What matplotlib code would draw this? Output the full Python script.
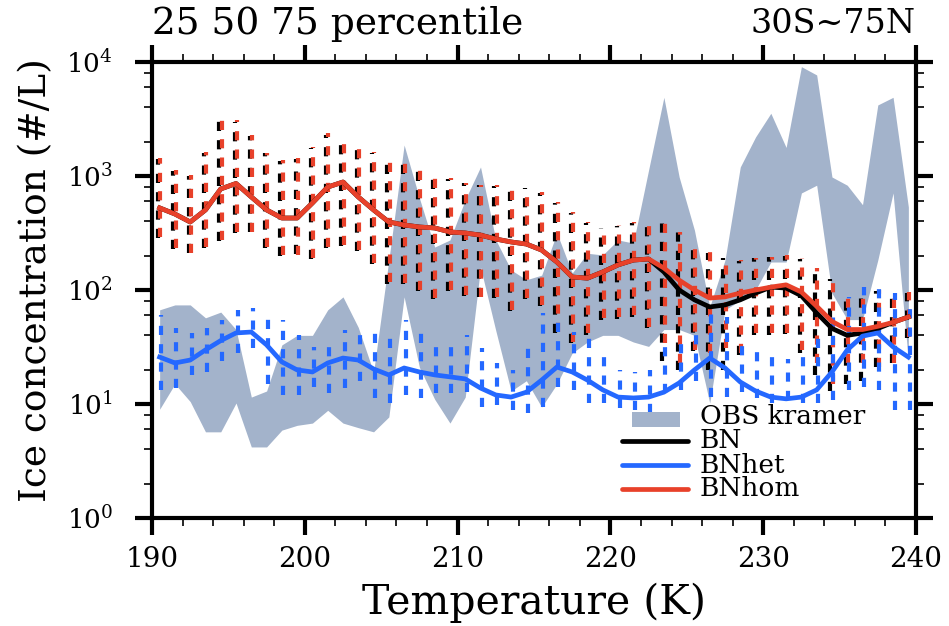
import numpy as np
import matplotlib
matplotlib.use("Agg")
import matplotlib.pyplot as plt
from matplotlib.patches import Rectangle
from matplotlib.ticker import LogLocator, MultipleLocator, FixedLocator

# temperature bin centres (K)
temp = np.arange(190.5, 240.0, 1.0)

# OBS kramer 25/75 percentile (#/L)
obs_lo = [9, 15, 10.5, 5.7, 5.7, 10.2, 4.2, 4.2, 5.9, 6.5,
          6.8, 8.8, 6.8, 6.2, 5.7, 7.7, 87, 21, 11, 6.8,
          11.5, 158, 44, 13, 16, 9.4, 15, 28, 35, 40,
          40, 35, 32, 45, 45, 40, 10.2, 67, 81, 100,
          176, 176, 710, 830, 94, 55, 55, 183, 710, 24]
obs_hi = [67, 74, 74, 57, 64, 45, 11.5, 13, 33, 40,
          40, 67, 87, 47, 19, 183, 1870, 640, 238, 275,
          620, 1200, 275, 150, 123, 135, 316, 141, 210, 203,
          275, 258, 1130, 4900, 980, 335, 71, 183, 1200, 2200,
          3550, 1780, 9100, 7700, 980, 830, 560, 4200, 4900, 535]

# model medians
bn_med = [525, 464, 395, 504, 770, 860, 655, 504, 428, 428,
          580, 800, 886, 655, 504, 395, 372, 357, 350, 323,
          316, 303, 280, 264, 253, 224, 176, 130, 127, 144,
          166, 183, 187, 144, 100, 82, 71, 74, 82, 94,
          106, 104, 89, 63, 46, 40, 42, 46, 52, 58]
het_med = [25.8, 22.9, 24.3, 29.8, 36, 42, 42.8, 33, 23.4, 19.9,
           19.1, 22.9, 25.3, 24.3, 20.3, 18, 20.7, 19.1, 18, 17.3,
           16.6, 13.8, 12, 11.5, 12.7, 16.2, 21.1, 19.1, 16.2, 13.3,
           11.5, 11.3, 11.5, 12.7, 15.3, 19.9, 25.3, 20.7, 15.6, 13,
           11.5, 11.1, 11.5, 13.3, 19.1, 29.8, 39.4, 42, 31.7, 25.8]
hom_med = [525, 464, 395, 504, 770, 860, 655, 504, 428, 428,
           580, 800, 886, 655, 504, 395, 372, 357, 350, 323,
           316, 303, 280, 264, 253, 224, 176, 130, 127, 144,
           166, 183, 187, 156, 122, 100, 85, 87, 94, 100,
           106, 111, 96, 72, 53, 45, 45, 48, 52, 58]

# model 25/75 percentiles
bn_lo = [285, 228, 212, 232, 270, 318, 320, 235, 200, 205,
         188, 232, 245, 220, 170, 112, 112, 98, 84, 98,
         88, 86, 85, 66, 84, 72, 42, 34, 40, 55,
         56, 58, 46, 24, 20, 29, 20, 20, 27, 40,
         40, 41, 28, 18, 13, 15, 16, 21, 23, 38]
bn_hi = [1400, 1100, 1000, 1580, 3300, 3000, 2250, 1580, 1350, 1400,
         1750, 2300, 2250, 1900, 1600, 1420, 1300, 1180, 1100, 950,
         860, 830, 820, 820, 780, 710, 580, 470, 390, 350,
         365, 390, 420, 390, 320, 255, 212, 192, 180, 190,
         193, 200, 188, 152, 125, 95, 98, 98, 95, 95]
het_lo = [13.3, 13.8, 18, 19, 24, 28, 31, 15, 12, 12,
          14, 12.5, 13.8, 16, 11.3, 10.2, 12, 11.3, 12.5, 12.5,
          12.7, 9.4, 9.8, 8.9, 8.3, 9.4, 14, 13.3, 10.2, 10.2,
          9.2, 8.9, 8.3, 12.5, 13.3, 16, 11.5, 11.5, 12.7, 11.3,
          10.2, 10.8, 10.2, 10.2, 10.8, 13.3, 14, 13.3, 8.9, 8.9]
het_hi = [60, 46, 42, 46, 55, 67, 70, 64, 55, 40,
          31.6, 38, 45, 45, 46, 45, 55, 45, 38, 38,
          40, 31, 23, 20, 34, 63, 52, 43, 42, 30,
          20, 19, 20, 31.6, 40, 42, 71, 58, 39, 34,
          25.8, 25, 25.8, 39, 67, 87, 106, 111, 94, 82]
hom_lo = [290, 232, 210, 237, 275, 323, 323, 237, 203, 203,
          190, 237, 248, 224, 173, 117, 115, 100, 85, 100,
          90, 87, 87, 67, 85, 74, 43, 35, 42, 57,
          58, 60, 47, 34, 23, 30, 28, 31, 28, 42,
          42, 42, 30, 23, 15, 23, 23, 21, 23, 39]
hom_hi = [1440, 1120, 1020, 1620, 3430, 3100, 2300, 1600, 1380, 1440,
          1800, 2380, 2300, 1950, 1620, 1440, 1320, 1200, 1120, 960,
          870, 830, 830, 830, 785, 720, 590, 480, 395, 357,
          372, 395, 428, 395, 323, 258, 215, 195, 183, 191,
          195, 203, 191, 156, 127, 96, 100, 100, 96, 96]

c_obs = '#a3b3cb'
c_bn = 'black'
c_het = '#2468ff'
c_hom = '#e8412a'

plt.rcParams['font.family'] = ['DejaVu Serif']
plt.rcParams['mathtext.fontset'] = 'dejavuserif'

fig = plt.figure(figsize=(9.49, 6.26), dpi=100)
ax = fig.add_axes([152/949, 1-518/626, (916-152)/949, (518-62)/626])

ax.fill_between(temp, obs_lo, obs_hi, color=c_obs, lw=0, zorder=1)

# dashed percentile bars
for t, lo, hi in zip(temp, bn_lo, bn_hi):
    ax.plot([t-0.1, t-0.1], [lo, hi], color=c_bn, lw=3, dashes=(2.2, 2.2), zorder=2)
for t, lo, hi in zip(temp, hom_lo, hom_hi):
    ax.plot([t+0.05, t+0.05], [lo, hi], color=c_hom, lw=3, dashes=(2.2, 2.2), zorder=3)
for t, lo, hi in zip(temp, het_lo, het_hi):
    ax.plot([t+0.1, t+0.1], [lo, hi], color=c_het, lw=3, dashes=(2.2, 2.2), zorder=3)

ax.plot(temp, bn_med, color=c_bn, lw=3.4, zorder=5)
ax.plot(temp, het_med, color=c_het, lw=3.4, zorder=5)
ax.plot(temp, hom_med, color=c_hom, lw=3.4, zorder=6)

ax.set_xlim(190, 240)
ax.set_yscale('log')
ax.set_ylim(1, 1e4)
ax.xaxis.set_major_locator(MultipleLocator(10))
ax.xaxis.set_minor_locator(MultipleLocator(2))
ax.yaxis.set_major_locator(FixedLocator([1, 10, 100, 1000, 10000]))
ax.yaxis.set_minor_locator(LogLocator(base=10, subs=(2, 4, 6, 8)))
ax.set_yticklabels([r'$10^{0}$', r'$10^{1}$', r'$10^{2}$', r'$10^{3}$', r'$10^{4}$'])

for s in ax.spines.values():
    s.set_linewidth(3)
ax.tick_params(which='major', direction='out', top=True, right=True,
               length=12, width=3)
ax.tick_params(which='minor', direction='out', top=True, right=True,
               length=6, width=1.2)
ax.tick_params(axis='x', which='major', labelsize=20, pad=8)
ax.tick_params(axis='y', which='major', labelsize=19, pad=16)

fig.text(36/949, 1-280/626, 'Ice concentration (#/L)', rotation=90,
         ha='center', va='center', fontsize=27)
fig.text(534/949, 1-603/626, 'Temperature (K)', ha='center', va='center', fontsize=29.5)
fig.text(152/949, 1-24/626, '25 50 75 percentile', ha='left', va='center', fontsize=27)
fig.text(916/949, 1-24/626, '30S~75N', ha='right', va='center', fontsize=24)

# legend drawn in axes coordinates
tr = ax.transAxes
ax.add_patch(Rectangle((0.628, 0.1996), 0.063, 0.033, transform=tr,
                       color=c_obs, lw=0, zorder=7))
ax.text(0.717, 0.2215, 'OBS kramer', transform=tr, va='center', fontsize=19, zorder=7)
for yy, col, lab in [(0.169, c_bn, 'BN'), (0.116, c_het, 'BNhet'), (0.0636, c_hom, 'BNhom')]:
    ax.plot([0.615, 0.702], [yy, yy], color=col, lw=3.4, transform=tr,
            solid_capstyle='round', zorder=7)
    ax.text(0.717, yy, lab, transform=tr, va='center', fontsize=19, zorder=7)

fig.savefig('out.png', dpi=100)
